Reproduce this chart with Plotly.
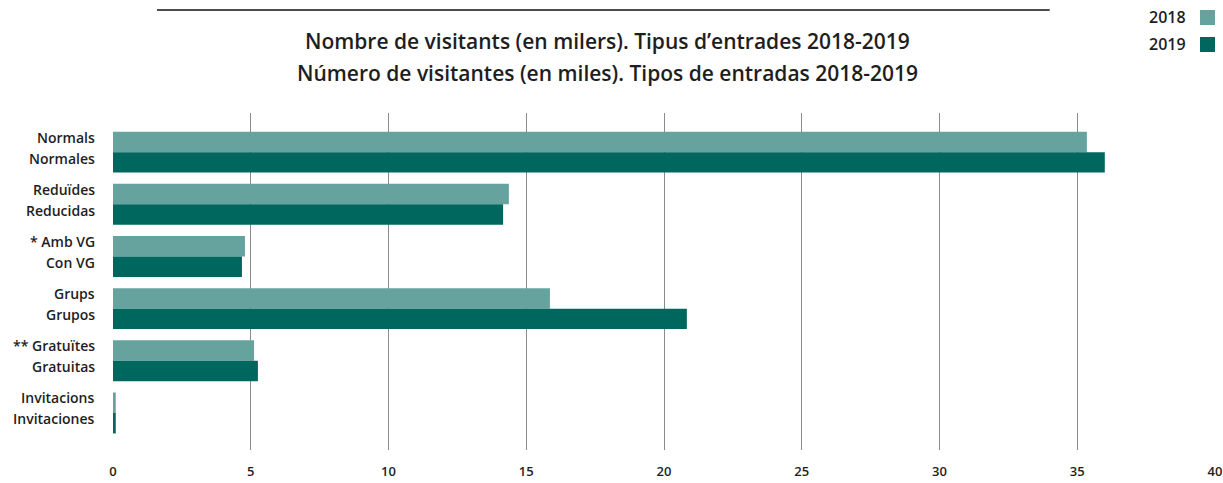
import plotly.graph_objects as go

categories = ["Normals", "Reduïdes", "Amb VG", "Grups", "Gratuïtes", "Invitacions"]
labels_ca = ["Normals", "Reduïdes", "* Amb VG", "Grups", "** Gratuïtes", "Invitacions"]
labels_es = ["Normales", "Reducidas", "Con VG", "Grupos", "Gratuitas", "Invitaciones"]
values_2018 = [35.35, 14.37, 4.79, 15.86, 5.12, 0.10]
values_2019 = [36.0, 14.16, 4.68, 20.83, 5.26, 0.10]
series_names = ["2018", "2019"]
x_ticks = [0, 5, 10, 15, 20, 25, 30, 35, 40]

c2018 = "#66A39F"
c2019 = "#00675F"
txt = "#1e1e1e"
FONT = "Open Sans"

fig = go.Figure()
fig.add_trace(go.Bar(y=categories, x=values_2018, orientation="h", name=series_names[0],
                     marker=dict(color=c2018, line=dict(width=0))))
fig.add_trace(go.Bar(y=categories, x=values_2019, orientation="h", name=series_names[1],
                     marker=dict(color=c2019, line=dict(width=0))))

fig.update_layout(
    width=1223, height=483,
    margin=dict(l=113, r=8, t=113, b=33),
    paper_bgcolor="white", plot_bgcolor="white",
    barmode="group", bargap=0.215, bargroupgap=0,
    showlegend=False,
    font=dict(family=FONT, color=txt),
    xaxis=dict(range=[0, 40], tickvals=x_ticks, showgrid=True, gridcolor="#8a8a8a",
               gridwidth=1.2, zeroline=False, showline=False, ticks="", automargin=False,
               tickfont=dict(size=13, family=FONT, color=txt, weight=600),
               ticklabelstandoff=12),
    yaxis=dict(range=[5.71, -0.75], showticklabels=False, showgrid=False, automargin=False,
               zeroline=False, showline=False, ticks=""),
)

anns = []
for i, cat in enumerate(categories):
    anns.append(dict(xref="paper", yref="y", x=0, y=cat, text=labels_ca[i], showarrow=False,
                     xanchor="right", yanchor="middle", xshift=-16, yshift=15,
                     font=dict(size=14, family=FONT, color=txt, weight=600)))
    anns.append(dict(xref="paper", yref="y", x=0, y=cat, text=labels_es[i], showarrow=False,
                     xanchor="right", yanchor="middle", xshift=-16, yshift=-6,
                     font=dict(size=14, family=FONT, color=txt, weight=600)))

# Title
title_lines = ["Nombre de visitants (en milers). Tipus d’entrades 2018-2019",
               "Número de visitantes (en miles). Tipos de entradas 2018-2019"]
for j, t in enumerate(title_lines):
    anns.append(dict(xref="paper", yref="paper", x=0.449, y=[1.2137, 1.1187][j], text=t,
                     showarrow=False, xanchor="center", yanchor="middle",
                     font=dict(size=21, family=FONT, color=txt, weight=600)))

# Legend (text left of swatch)
leg_y = [1.2849, 1.2047]
leg_sq = [(1.261, 1.3056), (1.181, 1.2255)]
for k, nm in enumerate(series_names):
    anns.append(dict(xref="paper", yref="paper", x=0.9755, y=leg_y[k], text=nm, showarrow=False,
                     xanchor="right", yanchor="middle",
                     font=dict(size=16, family=FONT, color=txt, weight=600)))

fig.update_layout(annotations=anns)

shapes = [dict(type="line", xref="paper", yref="paper", x0=0.0399, x1=0.850, y0=1.3056, y1=1.3056,
               line=dict(color="#111111", width=1.5))]
cols = [c2018, c2019]
for k in range(2):
    shapes.append(dict(type="rect", xref="paper", yref="paper", x0=0.9864, x1=1.0,
                       y0=leg_sq[k][0], y1=leg_sq[k][1], fillcolor=cols[k], line=dict(width=0)))
fig.update_layout(shapes=shapes)

fig.write_html("out.html", config={"displayModeBar": False},
               post_script="document.body.style.margin='0px';")
